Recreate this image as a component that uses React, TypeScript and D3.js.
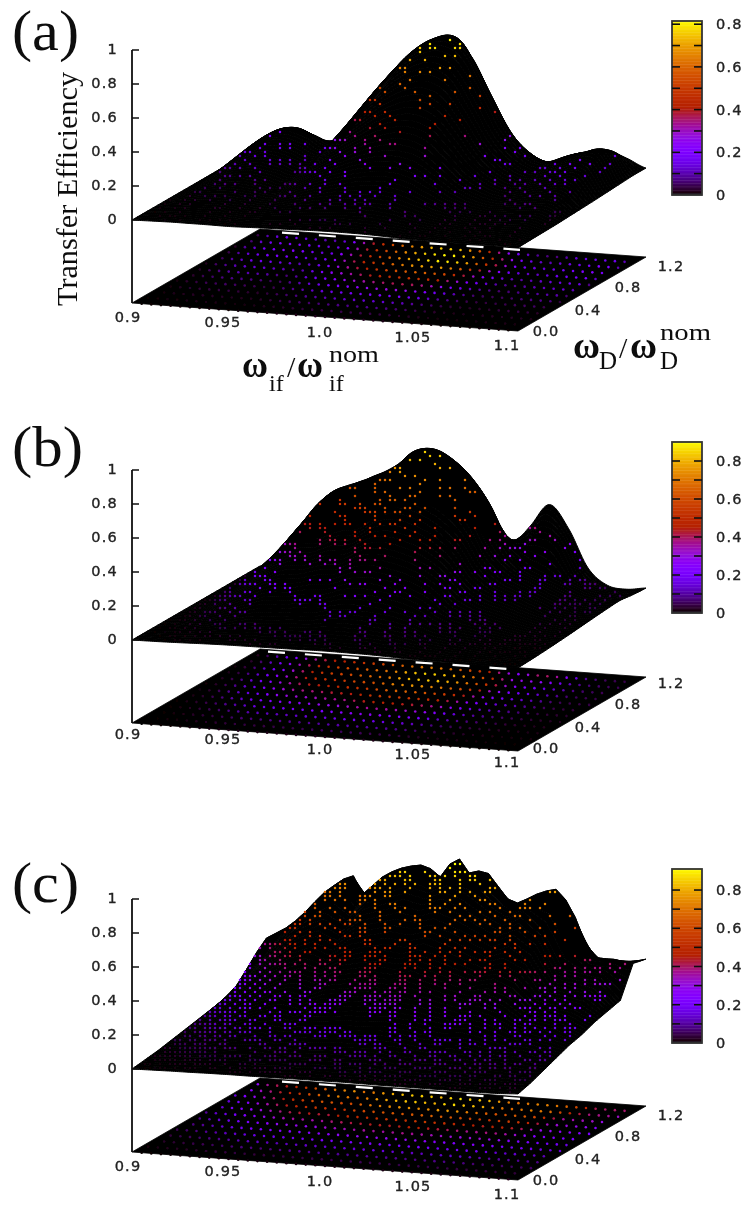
import React, { useMemo } from "react";
import * as d3 from "d3";

// Surface heights. Rows: omega_D from front (0) to back (1.2); columns: omega_if 0.9..1.1
const zA = [
  [0,.002,.004,.004,.004,.003,.006,.009,.011,.014,.016,.016,.015,.011,.006,.004,.003,.003,.004,.004,.002],
  [0,.007,.011,.013,.011,.008,.017,.026,.034,.042,.047,.049,.044,.032,.019,.011,.008,.009,.012,.012,.004],
  [0,.014,.024,.028,.024,.018,.036,.056,.074,.09,.101,.105,.096,.07,.042,.024,.016,.02,.025,.027,.006],
  [0,.025,.043,.05,.043,.032,.064,.1,.131,.16,.179,.186,.17,.124,.074,.043,.029,.036,.045,.048,.008],
  [0,.04,.067,.078,.067,.05,.1,.156,.205,.25,.281,.292,.266,.194,.115,.067,.045,.057,.07,.075,.012],
  [0,.057,.097,.113,.096,.073,.145,.225,.296,.362,.406,.421,.385,.281,.166,.097,.065,.082,.101,.108,.016],
  [0,.077,.13,.153,.13,.098,.195,.303,.399,.487,.546,.567,.518,.378,.224,.13,.088,.11,.136,.146,.02],
  [0,.097,.164,.192,.163,.123,.245,.381,.502,.612,.686,.713,.651,.475,.282,.164,.11,.138,.171,.183,.025],
  [0,.11,.186,.218,.185,.14,.278,.433,.57,.696,.78,.81,.74,.54,.32,.186,.125,.157,.194,.208,.03],
  [0,.105,.165,.156,.106,.13,.31,.47,.6,.7,.76,.76,.58,.36,.18,.096,.075,.135,.156,.165,.035],
  [0,.1,.105,.07,.07,.2,.36,.5,.62,.69,.72,.61,.39,.19,.06,.02,.07,.1,.12,.085,.035],
];
const zB = [
  [0,.001,.003,.006,.009,.011,.012,.013,.014,.016,.017,.016,.015,.012,.007,.005,.004,.002,.001,.001,.001],
  [0,.004,.012,.023,.035,.045,.047,.052,.055,.065,.067,.065,.058,.047,.029,.019,.014,.01,.006,.004,.004],
  [0,.008,.027,.049,.074,.095,.099,.112,.117,.137,.143,.137,.124,.1,.061,.041,.031,.02,.012,.009,.009],
  [0,.014,.047,.086,.131,.167,.175,.197,.206,.242,.253,.242,.218,.176,.108,.072,.054,.036,.021,.015,.015],
  [0,.022,.07,.13,.197,.251,.263,.295,.31,.364,.379,.363,.327,.265,.162,.108,.081,.054,.032,.022,.022],
  [0,.029,.094,.173,.262,.335,.35,.394,.413,.485,.506,.484,.436,.353,.216,.144,.108,.072,.042,.03,.03],
  [0,.036,.117,.216,.328,.419,.438,.492,.516,.606,.632,.605,.545,.441,.27,.18,.135,.09,.052,.038,.038],
  [0,.043,.14,.259,.393,.502,.526,.59,.619,.727,.759,.726,.654,.529,.324,.216,.162,.108,.063,.045,.045],
  [0,.048,.156,.288,.437,.558,.584,.656,.688,.808,.843,.807,.727,.588,.36,.24,.18,.12,.07,.05,.05],
  [0,.06,.19,.33,.46,.52,.58,.62,.7,.77,.77,.7,.58,.41,.24,.36,.33,.13,.07,.05,.04],
  [0,.05,.13,.2,.25,.28,.33,.4,.42,.42,.38,.32,.25,.23,.35,.485,.35,.128,.035,.02,.035],
];
const zC = [
  [0,.002,.004,.005,.007,.008,.008,.009,.01,.011,.011,.012,.011,.01,.01,.01,.01,.01,.01,.012,.018],
  [.01,.015,.025,.03,.04,.045,.04,.05,.05,.055,.055,.06,.055,.05,.05,.05,.05,.04,.04,.035,.04],
  [.02,.035,.05,.07,.09,.1,.09,.11,.11,.12,.12,.125,.12,.11,.1,.11,.1,.08,.08,.07,.07],
  [.035,.06,.09,.12,.15,.17,.16,.18,.19,.2,.2,.21,.2,.18,.17,.18,.16,.13,.13,.12,.1],
  [.05,.09,.14,.18,.22,.25,.23,.27,.28,.3,.3,.31,.3,.27,.25,.27,.24,.19,.18,.16,.13],
  [.065,.13,.19,.24,.3,.33,.31,.36,.38,.4,.39,.42,.39,.36,.33,.35,.31,.23,.22,.2,.15],
  [.08,.17,.25,.32,.39,.43,.4,.46,.49,.51,.5,.53,.5,.46,.42,.45,.4,.28,.26,.24,.18],
  [.095,.21,.32,.41,.5,.55,.5,.59,.62,.65,.64,.67,.63,.58,.53,.57,.5,.33,.31,.29,.2],
  [.124,.27,.4,.5,.62,.68,.6,.72,.76,.8,.77,.82,.78,.7,.64,.7,.6,.38,.36,.34,.22],
  [.2,.387,.454,.556,.68,.767,.687,.795,.856,.882,.867,.9,.872,.79,.718,.797,.7,.413,.41,.394,.25],
  [.2,.36,.43,.52,.58,.6,.6,.68,.72,.72,.74,.72,.7,.6,.62,.64,.36,.37,.33,.345,.376],
];
// Finer reading of panel (c)'s jagged crest along the omega_D = 1.08 row, 41 points across omega_if
const crestC = [
  .2,.3,.387,.42,.454,.5,.556,.62,.68,.725,.767,.79,.687,.741,.795,.83,.856,.872,.882,.865,.82,.9,.934,.856,.872,.861,.79,.72,.7,.728,.76,.783,.797,.74,.64,.5,.413,.41,.41,.4,.394,
];

const panelNames = ["(a)", "(b)", "(c)"];
const zTicks = [0, 0.2, 0.4, 0.6, 0.8, 1];
const zTickLabels = ["0", "0.2", "0.4", "0.6", "0.8", "1"];
const xTicks = ["0.9", "0.95", "1.0", "1.05", "1.1"];
const yTicks = ["0.0", "0.4", "0.8", "1.2"];
const cbTicks = [0, 0.2, 0.4, 0.6, 0.8];
const cbMinor = [0.1, 0.2, 0.3, 0.4, 0.5, 0.6, 0.7, 0.8];
const cbMax = [0.815, 0.9, 0.91];
const originY = [303, 723, 1152];
const labelDy = [0, -3, 0];
const cbTop = [21, 442, 869];
const cbBottom = [195, 613, 1043];
const dashStart = [282, 268, 282];
const dotLattice = [[110, 48], [110, 48], [140, 64]];
const dotWindow = [[0.33, 0.33], [0.42, 0.42], [0.43, 0.43]];
const nameBaseline = [50, 466, 902];
const grids = [zA, zB, zC];

const U = [386, 28];
const V = [128, -74];
const originX = 132;
const zHeight = 170;
const zLift = 83;
const pixelCellX = 5;
const pixelCellY = 4;

const palette = (v: number) => {
  const x = Math.max(0, Math.min(1, v));
  const r = Math.sqrt(x);
  const g = x * x * x;
  const b = Math.max(0, Math.sin(2 * Math.PI * x));
  return d3.rgb(r * 255, g * 255, b * 255).formatHex();
};

function bilinear(g: number[][], s: number, t: number) {
  const fx = Math.min(s * (g[0].length - 1), g[0].length - 1.0001);
  const fy = Math.min(t * (g.length - 1), g.length - 1.0001);
  const i = Math.floor(fx), j = Math.floor(fy);
  const a = fx - i, b = fy - j;
  return g[j][i] * (1 - a) * (1 - b) + g[j][i + 1] * a * (1 - b) + g[j + 1][i] * (1 - a) * b + g[j + 1][i + 1] * a * b;
}

const cr = (p0: number, p1: number, p2: number, p3: number, u: number) =>
  0.5 * (2 * p1 + (p2 - p0) * u + (2 * p0 - 5 * p1 + 4 * p2 - p3) * u * u + (3 * p1 - p0 - 3 * p2 + p3) * u * u * u);

function smooth(g: number[][], s: number, t: number) {
  const nx = g[0].length, ny = g.length;
  const fx = Math.min(s * (nx - 1), nx - 1.0001);
  const fy = Math.min(t * (ny - 1), ny - 1.0001);
  const i = Math.floor(fx), j = Math.floor(fy);
  const row = (r: number) => {
    const R = g[Math.max(0, Math.min(ny - 1, r))];
    const at = (c: number) => R[Math.max(0, Math.min(nx - 1, c))];
    return cr(at(i - 1), at(i), at(i + 1), at(i + 2), fx - i);
  };
  return Math.max(0, cr(row(j - 1), row(j), row(j + 1), row(j + 2), fy - j));
}

function surface(idx: number, s: number, t: number) {
  if (idx < 2) return smooth(grids[idx], s, t);
  const base = bilinear(zC, s, t);
  const w = Math.max(0, 1 - Math.abs(t - 0.9) / 0.1);
  if (w === 0) return base;
  const fx = Math.min(s * (crestC.length - 1), crestC.length - 1.0001);
  const i = Math.floor(fx);
  const ridge = crestC[i] + (crestC[i + 1] - crestC[i]) * (fx - i);
  return base + w * (ridge - bilinear(zC, s, 0.9));
}

function Panel({ idx }: { idx: number }) {
  const oy = originY[idx];
  const zs = d3.scaleLinear().domain([0, 1]).range([oy - zLift, oy - zLift - zHeight]);
  const px = (s: number, t: number) => originX + U[0] * s + V[0] * t;
  const py = (s: number, t: number, z: number) => zs(z) + U[1] * s + V[1] * t;
  const color = d3.scaleLinear().domain([0, cbMax[idx]]).range([0, 1]);

  const ribbons = useMemo(() => {
    const out: string[] = [];
    const nJ = 50, nI = 200;
    const line = d3.line<[number, number]>();
    for (let j = nJ - 1; j >= 0; j--) {
      const t0 = j / nJ, t1 = (j + 1) / nJ;
      const pts: [number, number][] = [];
      for (let i = 0; i <= nI; i++) {
        const s = i / nI;
        pts.push([px(s, t0), py(s, t0, surface(idx, s, t0))]);
      }
      for (let i = nI; i >= 0; i--) {
        const s = i / nI;
        pts.push([px(s, t1), py(s, t1, surface(idx, s, t1))]);
      }
      out.push(line(pts) + "Z");
    }
    return out;
  }, [idx]);

  const baseDots = useMemo(() => {
    const out: { x: number; y: number; c: string }[] = [];
    const nI = 40, nJ = 13;
    for (let j = 0; j <= nJ; j++)
      for (let i = -20; i <= 70; i++) {
        const s = (i - 1.35 * j) / nI;
        const t = j / nJ;
        if (s < 0.01 || s > 0.985 || t > 0.985) continue;
        out.push({ x: px(s, t), y: oy + U[1] * s + V[1] * t, c: palette(color(surface(idx, s, t))) });
      }
    return out;
  }, [idx]);

  const surfDots = useMemo(() => {
    const [nI, nJ] = dotLattice[idx];
    const [wx, wy] = dotWindow[idx];
    const envelope = new Float64Array(800).fill(1e9);
    for (let j = 0; j <= 80; j++)
      for (let k = 0; k <= 500; k++) {
        const s = k / 500, t = j / 80;
        const X = Math.round(px(s, t));
        const Y = py(s, t, surface(idx, s, t));
        if (Y < envelope[X]) envelope[X] = Y;
      }
    const horizon = new Float64Array(800).fill(1e9);
    const seen = new Set<string>();
    const out: { x: number; y: number; c: string }[] = [];
    for (let j = 1; j < nJ; j++) {
      const t = j / nJ;
      for (let i = 2; i < nI - 1; i++) {
        const s = i / nI;
        const z = surface(idx, s, t);
        const X = px(s, t), Y = py(s, t, z);
        const qx = X / pixelCellX, qy = Y / pixelCellY;
        if (qx - Math.floor(qx) > wx || qy - Math.floor(qy) > wy) continue;
        const R = Math.round(X);
        if (Y > horizon[R] + 0.5) continue;
        if (Y < envelope[R] + 3) continue;
        const sx = Math.floor(qx) * pixelCellX, sy = Math.floor(qy) * pixelCellY;
        const key = sx + "," + sy;
        if (seen.has(key)) continue;
        seen.add(key);
        out.push({ x: sx, y: sy, c: palette(color(z)) });
      }
      for (let k = 0; k <= 500; k++) {
        const s = k / 500;
        const X = Math.round(px(s, t));
        const Y = py(s, t, surface(idx, s, t));
        if (Y < horizon[X]) horizon[X] = Y;
      }
    }
    return out;
  }, [idx]);

  const basePts = [
    [0, 0],
    [1, 0],
    [1, 1],
    [0, 1],
  ]
    .map(([s, t]) => `${px(s, t)},${oy + U[1] * s + V[1] * t}`)
    .join(" ");

  const top = cbTop[idx], bot = cbBottom[idx];
  const cb = d3.scaleLinear().domain([0, cbMax[idx]]).range([bot, top]);
  const cells = d3.range(0, 120).map((k) => k / 120);

  const dy = labelDy[idx];
  const xTickPos = [
    [128, 318],
    [223, 323],
    [320, 333],
    [413, 338],
    [507, 346],
  ];
  const yTickPos = [
    [546, 332],
    [588, 311],
    [628, 288],
    [671, 267],
  ];
  const off = oy - originY[0];
  const tickFont = {
    fontFamily: "DejaVu Sans",
    fontSize: 14.5,
    letterSpacing: 1.2,
    fill: "#222",
    stroke: "#222",
    strokeWidth: 0.35,
  } as const;

  return (
    <g>
      <polygon points={basePts} fill="#000" stroke="#000" strokeWidth={0.8} />
      {baseDots.map((d, k) => (
        <circle key={k} cx={d.x} cy={d.y} r={1.3} fill={d.c} />
      ))}
      {ribbons.map((q, k) => (
        <path key={k} d={q} fill="#000" stroke="#000" strokeWidth={1} />
      ))}
      {surfDots.map((d, k) => (
        <circle key={k} cx={d.x} cy={d.y} r={1.25} fill={d.c} />
      ))}
      <line
        x1={dashStart[idx]}
        x2={520}
        y1={oy - 74 + 0.0725 * (dashStart[idx] - 260) + 2}
        y2={oy - 74 + 0.0725 * (520 - 260) + 2}
        stroke="#fff"
        strokeWidth={2.2}
        strokeDasharray="17 20"
      />
      <line x1={originX} x2={originX} y1={zs(1)} y2={oy} stroke="#111" strokeWidth={1.8} />
      {zTicks.map((z) => (
        <line key={z} x1={originX} x2={originX + 7} y1={zs(z)} y2={zs(z)} stroke="#111" strokeWidth={1.5} />
      ))}
      {zTicks.map((z, k) => (
        <text key={z} x={118} y={zs(z)} textAnchor="end" {...tickFont} dominantBaseline="middle">
          {zTickLabels[k]}
        </text>
      ))}
      {xTicks.map((l, k) => (
        <text key={l} x={xTickPos[k][0]} y={xTickPos[k][1] + off + dy} textAnchor="middle" dominantBaseline="middle" {...tickFont}>
          {l}
        </text>
      ))}
      {yTicks.map((l, k) => (
        <text key={l} x={yTickPos[k][0]} y={yTickPos[k][1] + off + dy} textAnchor="middle" dominantBaseline="middle" {...tickFont}>
          {l}
        </text>
      ))}
      {cells.map((c, k) => (
        <rect
          key={k}
          x={672}
          width={30}
          y={bot - (bot - top) * (c + 1 / 120) - 0.2}
          height={(bot - top) / 120 + 0.4}
          fill={palette(c)}
        />
      ))}
      <rect x={672} y={top} width={30} height={bot - top} fill="none" stroke="#333" strokeWidth={1.8} />
      {cbMinor.map((v) => (
        <g key={v}>
          <line x1={672} x2={680} y1={cb(v)} y2={cb(v)} stroke="#111" strokeWidth={1.6} />
          <line x1={694} x2={702} y1={cb(v)} y2={cb(v)} stroke="#111" strokeWidth={1.6} />
        </g>
      ))}
      {cbTicks.map((v) => (
        <text key={v} x={716} y={cb(v) + 1} dominantBaseline="middle" {...tickFont}>
          {v === 0 ? "0" : v.toFixed(1)}
        </text>
      ))}
      <text x={12} y={nameBaseline[idx]} fontFamily="Liberation Serif" fontSize={57} textLength={idx === 1 ? 71 : 67} lengthAdjust="spacingAndGlyphs" fill="#111">
        {panelNames[idx]}
      </text>
    </g>
  );
}

export default function App() {
  const serif = { fontFamily: "Liberation Serif", fill: "#111" } as const;
  return (
    <svg width={747} height={1205} style={{ position: "absolute", left: 0, top: 0, display: "block" }}>
      <defs>
        <filter id="soft" x="0" y="0" width="100%" height="100%">
          <feGaussianBlur stdDeviation="0.45" />
        </filter>
      </defs>
      <rect width={747} height={1205} fill="#fff" />
      <g filter="url(#soft)">
        {panelNames.map((_, i) => (
          <Panel key={i} idx={i} />
        ))}
        <text
          transform="translate(77,306) rotate(-90)"
          {...serif}
          fontSize={29}
          textLength={234}
          lengthAdjust="spacingAndGlyphs"
        >
          Transfer Efficiency
        </text>
        <text x={242} y={377} {...serif} fontSize={38} fontWeight={700} textLength={26} lengthAdjust="spacingAndGlyphs">ω</text>
        <text x={269} y={391} {...serif} fontSize={24}>if</text>
        <text x={287} y={377} {...serif} fontSize={30}>/</text>
        <text x={297} y={377} {...serif} fontSize={38} fontWeight={700} textLength={26} lengthAdjust="spacingAndGlyphs">ω</text>
        <text x={329} y={391} {...serif} fontSize={24}>if</text>
        <text x={329} y={362} {...serif} fontSize={24} textLength={50} lengthAdjust="spacingAndGlyphs">nom</text>
        <text x={573} y={358} {...serif} fontSize={38} fontWeight={700} textLength={27} lengthAdjust="spacingAndGlyphs">ω</text>
        <text x={599} y={369} {...serif} fontSize={25}>D</text>
        <text x={619} y={358} {...serif} fontSize={30}>/</text>
        <text x={630} y={358} {...serif} fontSize={38} fontWeight={700} textLength={27} lengthAdjust="spacingAndGlyphs">ω</text>
        <text x={660} y={369} {...serif} fontSize={25}>D</text>
        <text x={660} y={340} {...serif} fontSize={24} textLength={51} lengthAdjust="spacingAndGlyphs">nom</text>
      </g>
    </svg>
  );
}
